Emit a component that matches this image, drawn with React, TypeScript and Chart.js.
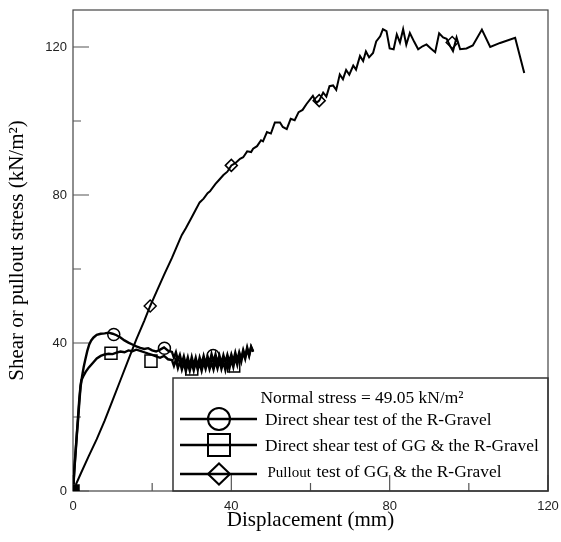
import React, { useEffect, useRef } from "react";
import Chart from "chart.js/auto";

// ---- data (displacement mm, stress kN/m²) ----
const directShearRGravel: [number, number][] = [
  [0, 0], [0.2, 3], [0.4, 6.5], [0.7, 11], [1.0, 15.5], [1.3, 19.5], [1.6, 24], [1.9, 28],
  [2.3, 31], [2.7, 33.5], [3.1, 35.5], [3.6, 37.8], [4.1, 39.6], [4.6, 40.7], [5.2, 41.5],
  [6, 42.2], [7, 42.5], [8, 42.6], [9, 42.8], [10, 42.5], [11, 42.1], [12, 41.5], [13, 40.7],
  [14, 40.1], [15, 39.6], [16, 39.1], [17, 38.7], [18, 38.4], [19, 38.6], [20, 38.0], [21, 37.7],
  [22, 38.2], [23, 38.8], [24, 37.9], [25, 37.6], [25.5, 36.0], [26, 37.5], [26.5, 35.3],
  [27, 36.8], [27.5, 34.6], [28, 36.4], [28.5, 34.2], [29, 36.1], [29.5, 33.8], [30, 36.2],
  [30.5, 34.0], [31, 36.0], [31.5, 33.7], [32, 36.1], [32.5, 34.3], [33, 36.5], [33.5, 34.5],
  [34, 36.4], [34.5, 34.6], [35, 37.0], [35.5, 34.9], [36, 36.9], [36.5, 34.7], [37, 36.6],
  [37.5, 34.5], [38, 36.7], [38.5, 34.8], [39, 36.8], [39.5, 34.9], [40, 36.9], [40.5, 35.1],
  [41, 37.4], [41.5, 35.3], [42, 37.5], [42.5, 35.8], [43, 38.1], [43.5, 36.3], [44, 38.8],
  [44.5, 36.8], [45, 39.0], [45.5, 37.8],
];

const directShearGG: [number, number][] = [
  [0, 0], [0.2, 3.5], [0.4, 7], [0.7, 11.5], [1.0, 16], [1.3, 20.5], [1.6, 25], [1.9, 28.5],
  [2.1, 29.9], [2.6, 31], [3.2, 32.2], [4, 33.4], [5, 34.6], [6, 35.8], [7, 36.5], [8, 36.9],
  [9, 37.1], [10, 37.0], [11, 37.4], [12, 37.7], [13, 37.5], [14, 38.0], [15, 37.8], [16, 38.2],
  [17, 37.9], [18, 37.5], [19, 37.1], [20, 36.8], [21, 36.4], [22, 36.0], [23, 36.5], [24, 35.6],
  [25, 35.4], [25.5, 33.8], [26, 35.5], [26.5, 33.2], [27, 35.0], [27.5, 32.8], [28, 34.7],
  [28.5, 32.4], [29, 34.5], [29.5, 32.5], [30, 34.7], [30.5, 32.6], [31, 34.9], [31.5, 32.8],
  [32, 34.5], [32.5, 32.5], [33, 34.8], [33.5, 33.0], [34, 35.1], [34.5, 32.9], [35, 34.7],
  [35.5, 32.8], [36, 35.0], [36.5, 33.1], [37, 35.3], [37.5, 33.0], [38, 34.9], [38.5, 32.7],
  [39, 35.0], [39.5, 33.1], [40, 35.5], [40.5, 33.5], [41, 36.1], [41.5, 34.1], [42, 36.7],
  [42.5, 34.9], [43, 37.5], [43.5, 35.7], [44, 38.3], [44.5, 36.5], [45, 38.9], [45.5, 37.6],
];

const pulloutGG: [number, number][] = [
  [0, 0], [2, 4.8], [4, 9.5], [6, 14], [8, 19], [10, 24.5], [12, 30], [14, 35.5], [16, 41],
  [18, 46], [19.5, 50], [21, 53.6], [23, 58.4], [25, 63], [26, 65.5], [27, 68], [27.5, 69.2],
  [28.5, 71], [30, 74], [31, 76], [32, 78], [33, 79], [34, 80.5], [34.6, 81], [36, 83],
  [37, 84.2], [38, 85.4], [39, 86.3], [40, 88], [41, 88.6], [42.2, 89.8], [43, 90.2],
  [44, 91.8], [45, 91.6], [45.5, 92.5], [46.5, 93.2], [47.5, 94.8], [48, 94.5], [49, 97],
  [50, 96.6], [51, 99.6], [52.3, 99.6], [53, 98.4], [54, 97.8], [55, 100.6], [56, 100.2],
  [57, 102.4], [58, 103], [59, 104.6], [60.6, 106.8], [61.5, 104.9], [62.2, 105.5],
  [63.2, 107.7], [64, 106.6], [64.8, 109.4], [65.7, 109.6], [66.5, 108.4], [67.4, 112.6],
  [68.2, 111.3], [69, 113.8], [69.8, 112.5], [70.8, 115], [71.5, 113.9], [72.5, 117.6],
  [73.3, 116.2], [74, 118.8], [74.8, 117.2], [75.8, 118.4], [76.6, 121.5], [77.6, 122.9],
  [78.3, 124.8], [79.2, 124.3], [80, 119.6], [81, 119.4], [81.8, 123.4], [82.6, 121.2],
  [83.4, 124.8], [84.2, 120.6], [85.1, 123.8], [86.2, 121.4], [87.2, 119.4], [88.3, 120.2],
  [89.3, 120.7], [90.4, 119.6], [91.5, 118.6], [92.5, 123.7], [93.5, 122.6], [94.4, 122.2],
  [95.3, 120.2], [96, 118.9], [96.9, 122.6], [97.8, 119.4], [99.4, 119.6], [101, 120.4],
  [103.3, 124.7], [105.4, 120], [107.9, 121.1], [111.7, 122.5], [114, 113],
];

const circleMarks: [number, number][] = [[0, 0], [10.3, 42.3], [23.1, 38.6], [35.4, 36.6]];
const squareMarks: [number, number][] = [[0, 0], [9.6, 37.2], [19.7, 35.1], [30, 33], [40.6, 33.8]];
const diamondMarks: [number, number][] = [[0, 0], [19.5, 50], [40, 88], [62.2, 105.5], [95.8, 121.2]];

const xTicks = [0, 20, 40, 60, 80, 100, 120];
const yTicks = [0, 20, 40, 60, 80, 100, 120];
const labelledTicks = [0, 40, 80, 120];

const xTitle = "Displacement (mm)";
const yTitle = "Shear or pullout stress (kN/m²)";
const legendHeader = "Normal stress = 49.05 kN/m²";
const legendLabels = [
  "Direct shear test of the R-Gravel",
  "Direct shear test of GG & the R-Gravel",
  "test of GG & the R-Gravel",
];
const legendPrefix = "Pullout";

const toPts = (arr: [number, number][]) => arr.map(([x, y]) => ({ x, y }));

const SERIF = '"Liberation Serif", "Times New Roman", serif';
const SANS = '"Liberation Sans", Arial, sans-serif';

const framePlugin = {
  id: "frame",
  beforeDatasetsDraw(chart: any) {
    const { ctx, chartArea: a, scales } = chart;
    const x = scales.x;
    const y = scales.y;
    ctx.save();
    ctx.strokeStyle = "#444";
    ctx.lineWidth = 1.2;
    ctx.strokeRect(a.left, a.top, a.right - a.left, a.bottom - a.top);
    ctx.strokeStyle = "#555";
    ctx.lineWidth = 1.2;
    ctx.beginPath();
    xTicks.forEach((v) => {
      const px = x.getPixelForValue(v);
      const len = labelledTicks.includes(v) ? 16 : 8;
      ctx.moveTo(px, a.bottom);
      ctx.lineTo(px, a.bottom - len);
    });
    yTicks.forEach((v) => {
      const py = y.getPixelForValue(v);
      const len = labelledTicks.includes(v) ? 16 : 8;
      ctx.moveTo(a.left, py);
      ctx.lineTo(a.left + len, py);
    });
    ctx.stroke();
    ctx.restore();
  },
  afterDatasetsDraw(chart: any) {
    const { ctx, chartArea: a } = chart;
    ctx.save();
    // legend box
    const bl = 173, bt = 378;
    ctx.strokeStyle = "#333";
    ctx.lineWidth = 1.5;
    ctx.strokeRect(bl, bt, a.right - bl, a.bottom - bt);
    ctx.fillStyle = "#000";
    ctx.textBaseline = "alphabetic";
    ctx.textAlign = "left";
    ctx.font = `17.4px ${SERIF}`;
    ctx.fillText(legendHeader, 260.5, 403);
    const rows = [419, 445, 474];
    const cx = 219;
    ctx.strokeStyle = "#000";
    rows.forEach((ry, i) => {
      ctx.lineWidth = 2.5;
      ctx.beginPath();
      ctx.moveTo(180, ry);
      ctx.lineTo(257, ry);
      ctx.stroke();
      ctx.lineWidth = 2;
      ctx.beginPath();
      if (i === 0) {
        ctx.arc(cx, ry, 11, 0, Math.PI * 2);
      } else if (i === 1) {
        ctx.rect(cx - 11, ry - 11, 22, 22);
      } else {
        ctx.moveTo(cx - 11, ry);
        ctx.lineTo(cx, ry - 10.5);
        ctx.lineTo(cx + 11, ry);
        ctx.lineTo(cx, ry + 10.5);
        ctx.closePath();
      }
      ctx.stroke();
    });
    ctx.font = `17.4px ${SERIF}`;
    ctx.fillText(legendLabels[0], 265, 425);
    ctx.fillText(legendLabels[1], 265, 451);
    ctx.font = `15px ${SERIF}`;
    ctx.fillText(legendPrefix, 267.5, 477);
    ctx.font = `17.4px ${SERIF}`;
    ctx.fillText(legendLabels[2], 316.5, 477);
    ctx.restore();
  },
};

export default function App() {
  const ref = useRef<HTMLCanvasElement | null>(null);
  useEffect(() => {
    if (!ref.current) return;
    const lineDs = (label: string, arr: [number, number][], w: number) => ({
      type: "line" as const,
      label,
      data: toPts(arr),
      borderColor: "#000",
      borderWidth: w,
      pointRadius: 0,
      tension: 0,
      fill: false,
      order: 2,
    });
    const markDs = (label: string, arr: [number, number][], style: string, r: number, bg: any, border: any) => ({
      type: "scatter" as const,
      label,
      data: toPts(arr),
      showLine: false,
      pointStyle: style,
      pointRadius: r,
      pointBorderColor: border,
      pointBackgroundColor: bg,
      pointBorderWidth: 1.5,
      order: 1,
    });
    const clear = "rgba(255,255,255,0)";
    const chart = new Chart(ref.current, {
      type: "line",
      data: {
        datasets: [
          lineDs("Pullout test of GG & the R-Gravel", pulloutGG, 2),
          lineDs("Direct shear test of GG & the R-Gravel", directShearGG, 2.4),
          lineDs("Direct shear test of the R-Gravel", directShearRGravel, 2.4),
          markDs("squares", squareMarks, "rect", 8.5, squareMarks.map((_, i) => (i === 0 ? "#000" : clear)), "#000"),
          markDs("diamonds", diamondMarks, "rectRot", 6, clear, "#000"),
          markDs("circles", circleMarks, "circle", 6, clear, circleMarks.map((_, i) => (i === 0 ? "#fff" : "#000"))),
        ] as any,
      },
      options: {
        animation: false,
        responsive: true,
        maintainAspectRatio: false,
        layout: { padding: { top: 8, right: 13, left: 0, bottom: 0 } },
        plugins: { legend: { display: false }, tooltip: { enabled: false } },
        scales: {
          x: {
            type: "linear",
            min: 0,
            max: 120,
            afterFit: (s: any) => {
              s.height = 51;
              s.paddingLeft = 0;
              s.paddingRight = 0;
            },
            afterBuildTicks: (s: any) => {
              s.ticks = xTicks.map((v) => ({ value: v }));
            },
            grid: { display: false, drawTicks: false },
            border: { display: false },
            ticks: {
              autoSkip: false,
              maxRotation: 0,
              padding: 8,
              color: "#222",
              font: { family: SANS, size: 13 },
              callback: (v: any) => (labelledTicks.includes(Number(v)) ? String(v) : ""),
            },
            title: {
              display: true,
              text: xTitle,
              color: "#000",
              font: { family: SERIF, size: 21, lineHeight: 1.2 },
              padding: { top: 0, bottom: 9 },
            },
          },
          y: {
            type: "linear",
            min: 0,
            max: 130,
            afterFit: (s: any) => {
              s.width = 73;
              s.paddingTop = 0;
              s.paddingBottom = 0;
            },
            afterBuildTicks: (s: any) => {
              s.ticks = yTicks.map((v) => ({ value: v }));
            },
            grid: { display: false, drawTicks: false },
            border: { display: false },
            ticks: {
              autoSkip: false,
              padding: 6,
              color: "#222",
              font: { family: SANS, size: 13 },
              callback: (v: any) => (labelledTicks.includes(Number(v)) ? String(v) : ""),
            },
            title: {
              display: true,
              text: yTitle,
              color: "#000",
              font: { family: SERIF, size: 21, lineHeight: 1.2 },
              padding: { top: 5, bottom: 0 },
            },
          },
        },
      },
      plugins: [framePlugin],
    });
    return () => chart.destroy();
  }, []);
  return (
    <div style={{ position: "absolute", left: 0, top: 0, width: 561, height: 542, background: "#fff" }}>
      <canvas ref={ref} />
    </div>
  );
}
